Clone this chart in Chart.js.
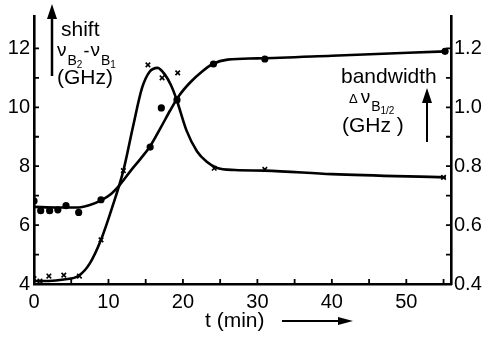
<!DOCTYPE html>
<html><head><meta charset="utf-8">
<script src="https://cdn.jsdelivr.net/npm/chart.js@4/dist/chart.umd.min.js"></script>
<style>html,body{margin:0;padding:0;background:#fff}#w{width:483px;height:337px}</style>
</head><body><div id="w"><canvas id="c"></canvas></div>
<script>
// ---- data ----
const shiftT   = [0, 0.9, 2.1, 3.2, 4.3, 6.0, 9.0, 15.6, 17.1, 19.2, 24.1, 31, 55.2];
const shiftV   = [6.82, 6.49, 6.49, 6.52, 6.66, 6.43, 6.86, 8.65, 9.98, 10.25, 11.47, 11.64, 11.9];
const bandT    = [0, 0.8, 2.0, 4.0, 6.1, 9.0, 12.0, 15.3, 17.2, 19.3, 24.2, 31, 55];
const bandV    = [0.418, 0.41, 0.427, 0.43, 0.427, 0.55, 0.785, 1.144, 1.10, 1.117, 0.793, 0.789, 0.762];
// smooth fitted curves
const shiftCurveT = [0, 3, 6, 7.5, 9, 10.3, 11.5, 13, 14.3, 15.6, 17, 18.3, 19.5, 21, 22.5, 24, 26, 30, 40, 55.3];
const shiftCurveV = [6.62, 6.6, 6.6, 6.68, 6.84, 7.05, 7.36, 7.85, 8.25, 8.68, 9.3, 9.9, 10.4, 10.85, 11.2, 11.47, 11.62, 11.66, 11.75, 11.9];
const bandCurveT  = [0, 2, 4, 6, 7.5, 9, 10.5, 12, 13.3, 14.5, 15.5, 16.6, 17.6, 18.4, 19.1, 20.5, 21.9, 23.2, 24.5, 27, 31, 40, 55.3];
const bandCurveV  = [0.41, 0.41, 0.415, 0.428, 0.47, 0.55, 0.66, 0.785, 0.935, 1.065, 1.12, 1.134, 1.11, 1.075, 1.03, 0.92, 0.85, 0.815, 0.795, 0.787, 0.785, 0.773, 0.762];
// ticks
const xTicks = [0, 10, 20, 30, 40, 50];
const xMinor = [5, 10, 15, 20, 25, 30, 35, 40, 45, 50, 55];
const yTicks = [4, 6, 8, 10, 12];
const yMinor = [5, 6, 7, 8, 9, 10, 11, 12];
const y2Ticks = [0.4, 0.6, 0.8, 1.0, 1.2];
const y2Minor = [0.5, 0.6, 0.7, 0.8, 0.9, 1.0, 1.1, 1.2];

const pts = (t, v) => t.map((x, i) => ({x: x, y: v[i]}));
const FONT = '"Liberation Sans Narrow","Liberation Sans",sans-serif';

const innerTicks = {
  id: 'innerTicks',
  afterDraw(chart) {
    const {ctx, scales: {x, y, y2}, chartArea: a} = chart;
    ctx.save();
    ctx.strokeStyle = '#000'; ctx.lineWidth = 1.8;
    ctx.beginPath();
    xMinor.forEach(v => { const px = x.getPixelForValue(v); ctx.moveTo(px, a.bottom); ctx.lineTo(px, a.bottom - 5); });
    yMinor.forEach(v => { const py = y.getPixelForValue(v); ctx.moveTo(a.left, py); ctx.lineTo(a.left + 5, py); });
    y2Minor.forEach(v => { const py = y2.getPixelForValue(v); ctx.moveTo(a.right, py); ctx.lineTo(a.right - 5, py); });
    ctx.stroke();
    // annotation text
    ctx.fillStyle = '#000';
    ctx.textBaseline = 'alphabetic';
    const txt = (s, px, py, size) => { ctx.font = size + 'px ' + FONT; ctx.fillText(s, px, py); return ctx.measureText(s).width; };
    ctx.textAlign = 'left';
    txt('shift', 61, 36, 21);
    let cx = 57;
    cx += txt('ν', cx, 56, 19) + 1;
    cx += txt('B', cx, 65, 14);
    cx += txt('2', cx, 68, 10);
    cx += txt('-', cx + 1, 57, 18) + 2;
    cx += txt('ν', cx, 56, 19) + 1;
    cx += txt('B', cx, 65, 14);
    txt('1', cx, 68, 10);
    txt('(GHz)', 57, 84, 21);
    txt('bandwidth', 341, 83, 21);
    let rx = 349;
    rx += txt('Δ', rx, 103, 13) + 3;
    rx += txt('ν', rx, 103, 19) + 1;
    rx += txt('B', rx, 111, 14);
    txt('1/2', rx, 114, 10);
    txt('(GHz )', 342, 132, 21);
    txt('t (min)', 205, 327, 21);
    // arrows
    const arrow = (x1, y1, x2, y2, hw, hl, lw) => {
      const ang = Math.atan2(y2 - y1, x2 - x1);
      ctx.lineWidth = lw;
      ctx.beginPath(); ctx.moveTo(x1, y1);
      ctx.lineTo(x2 - Math.cos(ang) * hl * 0.8, y2 - Math.sin(ang) * hl * 0.8); ctx.stroke();
      ctx.beginPath(); ctx.moveTo(x2, y2);
      ctx.lineTo(x2 - Math.cos(ang) * hl - Math.sin(ang) * hw, y2 - Math.sin(ang) * hl + Math.cos(ang) * hw);
      ctx.lineTo(x2 - Math.cos(ang) * hl + Math.sin(ang) * hw, y2 - Math.sin(ang) * hl - Math.cos(ang) * hw);
      ctx.closePath(); ctx.fill();
    };
    arrow(52, 76, 52, 4, 5, 15, 2.5);
    arrow(427, 142, 427, 88, 5, 15, 2);
    arrow(282, 321, 353, 321, 4, 15, 2);
    ctx.restore();
  }
};

new Chart(document.getElementById('c'), {
  type: 'scatter',
  data: {
    datasets: [
      {data: pts(shiftCurveT, shiftCurveV), yAxisID: 'y', showLine: true, pointRadius: 0, borderColor: '#000', borderWidth: 2.6, cubicInterpolationMode: 'monotone'},
      {data: pts(bandCurveT, bandCurveV), yAxisID: 'y2', showLine: true, pointRadius: 0, borderColor: '#000', borderWidth: 2.6, cubicInterpolationMode: 'monotone'},
      {data: pts(shiftT, shiftV), yAxisID: 'y', pointStyle: 'circle', pointRadius: 3.6, backgroundColor: '#000', borderColor: '#000', borderWidth: 0},
      {data: pts(bandT, bandV), yAxisID: 'y2', pointStyle: 'crossRot', pointRadius: 3.2, borderColor: '#000', borderWidth: 1.6}
    ]
  },
  options: {
    responsive: true, maintainAspectRatio: false, animation: false,
    layout: {padding: {top: 10, left: 0, right: 0, bottom: 0}},
    plugins: {legend: {display: false}, tooltip: {enabled: false}},
    scales: {
      x: {
        type: 'linear', min: 0, max: 56,
        afterBuildTicks: s => { s.ticks = xTicks.map(v => ({value: v})); },
        afterFit: s => { s.height = 53; },
        grid: {display: false, drawTicks: false},
        border: {display: true, color: '#000', width: 2.6},
        ticks: {color: '#000', font: {family: FONT, size: 20}, padding: 6, maxRotation: 0}
      },
      y: {
        position: 'left', min: 4, max: 13.1,
        afterBuildTicks: s => { s.ticks = yTicks.map(v => ({value: v})); },
        afterFit: s => { s.width = 34; },
        grid: {display: false, drawTicks: false},
        border: {display: true, color: '#000', width: 2.6},
        ticks: {color: '#000', font: {family: FONT, size: 20}, padding: 4}
      },
      y2: {
        position: 'right', min: 0.4, max: 1.31,
        afterBuildTicks: s => { s.ticks = y2Ticks.map(v => ({value: v})); },
        afterFit: s => { s.width = 32; },
        grid: {display: false, drawTicks: false},
        border: {display: true, color: '#000', width: 2.6},
        ticks: {color: '#000', font: {family: FONT, size: 20}, padding: 3, callback: v => v.toFixed(1)}
      }
    }
  },
  plugins: [innerTicks]
});
</script>
</body></html>
